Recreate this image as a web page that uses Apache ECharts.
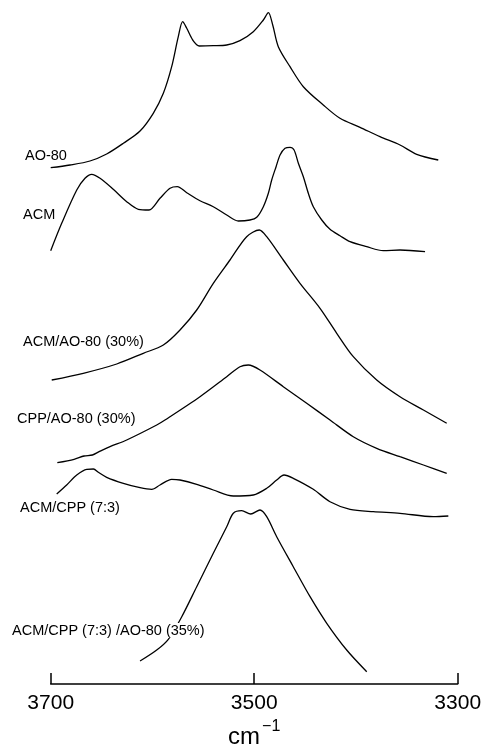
<!DOCTYPE html>
<html>
<head>
<meta charset="utf-8">
<script src="https://cdn.jsdelivr.net/npm/echarts@6/dist/echarts.min.js"></script>
<style>
html,body{margin:0;padding:0;background:#fff;}
#chart{width:485px;height:746px;}
</style>
</head>
<body>
<div id="chart"></div>
<script>
// Tick labels of the wavenumber axis (cm^-1)
const xTicks = [3700, 3500, 3300];

// Series names (as printed next to each spectrum)
const names = ['AO-80', 'ACM', 'ACM/AO-80 (30%)', 'CPP/AO-80 (30%)', 'ACM/CPP (7:3)', 'ACM/CPP (7:3) /AO-80 (35%)'];

// Wavenumbers (cm^-1) and stacked absorbance (arbitrary units, offset per trace)
const ao80Wn  = [3700, 3681, 3661.4, 3645, 3628.6, 3612.2, 3599.2, 3589.3, 3581.1, 3574.6, 3570.3, 3566.3, 3560.4, 3554, 3540.2, 3527, 3514, 3500.9, 3491, 3486.1, 3481.8, 3476.3, 3464.8, 3451.7, 3432.1, 3415.7, 3396, 3376.4, 3356.7, 3340.3, 3319.1];
const ao80Abs = [516.3, 519, 523, 530, 540.7, 553, 570.7, 590.7, 617.3, 647.3, 662.3, 655.7, 644, 638, 638.3, 639, 643.3, 652.3, 664, 671.3, 659, 637.3, 617.3, 597.3, 579, 565.7, 556.7, 547.3, 539, 529.7, 524];

const acmWn  = [3700, 3689.2, 3674.4, 3666.3, 3659.7, 3651.5, 3638.5, 3625.3, 3613.9, 3603.4, 3592.6, 3582.7, 3575.6, 3566.3, 3553.3, 3540.2, 3527, 3515.6, 3504.1, 3497.5, 3491, 3486.1, 3482.8, 3478.5, 3474.6, 3469.7, 3464.8, 3460.8, 3456.6, 3451.7, 3446.8, 3441.9, 3433.6, 3425.5, 3415.7, 3405.8, 3389.4, 3373.1, 3356.7, 3332.1];
const acmAbs = [433.3, 460.7, 494, 505.7, 509.7, 505.7, 494.7, 482.3, 474.7, 474, 485.7, 495.7, 497.3, 491.3, 483.3, 477.3, 469, 463, 464, 466.7, 477.3, 490.7, 504, 517.3, 529, 535.7, 536.7, 534, 520.7, 507.3, 490.7, 477.3, 464, 454.7, 448.3, 442.3, 437.3, 433.3, 434, 432.3];

const acmAo80Wn  = [3699, 3668, 3635.1, 3609, 3589.3, 3572.9, 3556.5, 3540.2, 3523.8, 3507.4, 3495, 3487.7, 3471.4, 3455, 3435.3, 3418.9, 3402.6, 3379.6, 3356.7, 3333.7, 3310.8];
const acmAo80Abs = [304, 310.7, 320, 330.7, 339, 354, 374, 400.7, 424, 447.3, 454, 447.3, 424, 400.7, 375.7, 350.7, 327.3, 304, 287.3, 274, 260.7];

const cppAo80Wn  = [3693.5, 3677, 3667.2, 3659, 3652.4, 3641.7, 3625.3, 3595.8, 3587.7, 3553.3, 3527, 3514, 3505.8, 3494.3, 3471.4, 3448.4, 3425.5, 3402.6, 3379.6, 3356.7, 3333.7, 3310.8];
const cppAo80Abs = [221.3, 224.7, 228, 229, 232.3, 237.3, 244, 259, 264, 287.3, 307.3, 317.3, 319, 314, 297.3, 280.7, 264, 247.3, 235.7, 227.3, 219, 210.7];

const acmCppWn  = [3694.1, 3684.3, 3674.4, 3664.6, 3658, 3653.2, 3645, 3628.6, 3612.2, 3600.7, 3592.6, 3581.1, 3572.9, 3556.5, 3540.2, 3520.5, 3500.9, 3487.7, 3477.9, 3470.7, 3461.6, 3441.9, 3425.5, 3405.8, 3383, 3356.7, 3324, 3309.2];
const acmCppAbs = [190, 199, 209, 214.7, 215, 211.7, 206.7, 200.7, 196.3, 194.7, 199, 204.7, 204, 199.7, 194, 188, 189, 195.7, 204, 209, 205.7, 194.7, 182.3, 174.7, 172.3, 170.7, 167.3, 168];

const ternWn  = [3612.2, 3595.8, 3584.4, 3571.2, 3556.5, 3540.2, 3527, 3520.5, 3512.3, 3503.4, 3494.3, 3487.7, 3477.9, 3461.6, 3445.1, 3428.7, 3409.1, 3389.4];
const ternAbs = [23, 34, 44.7, 67.3, 97.3, 130.7, 157.3, 170.7, 173.3, 170, 174, 167.3, 147.3, 117.3, 87.3, 60.7, 34, 12.3];

const traces = [
  [ao80Wn, ao80Abs], [acmWn, acmAbs], [acmAo80Wn, acmAo80Abs],
  [cppAo80Wn, cppAo80Abs], [acmCppWn, acmCppAbs], [ternWn, ternAbs]
];

const FONT = '"Liberation Sans", Arial, sans-serif';
const chart = echarts.init(document.getElementById('chart'), null, {renderer: 'canvas'});

const series = traces.map((t, i) => ({
  name: names[i],
  type: 'line',
  data: t[0].map((w, k) => [w, t[1][k]]),
  smooth: 0.3,
  symbol: 'none',
  lineStyle: {color: '#000', width: 1.3},
  z: 2
}));

// label anchor positions (px)
const labelPos = [[25, 156], [23, 215], [23, 342], [17, 419], [20, 508], [12, 631]];

chart.setOption({
  animation: false,
  backgroundColor: '#fff',
  grid: {left: 50.7, right: 27.3, top: 0, bottom: 62, containLabel: false, outerBoundsMode: 'none'},
  xAxis: {
    type: 'value',
    min: 3300, max: 3700, interval: 200,
    inverse: true,
    axisLine: {show: true, lineStyle: {color: '#000', width: 1.5}},
    axisTick: {show: true, inside: true, length: 11, lineStyle: {color: '#000', width: 1.5}},
    axisLabel: {
      color: '#000', fontSize: 21, fontFamily: FONT, margin: 9,
      formatter: v => xTicks.includes(v) ? String(v) : ''
    },
    splitLine: {show: false},
    name: '{a|cm}{b|−1}',
    nameLocation: 'middle',
    nameGap: 32,
    nameTextStyle: {
      rich: {
        a: {fontSize: 24, fontFamily: FONT, color: '#000', padding: [8, 0, 0, 0]},
        b: {fontSize: 16, fontFamily: FONT, color: '#000', padding: [0, 0, 12, 2]}
      }
    }
  },
  yAxis: {type: 'value', min: 0, max: 684, show: false},
  series: series,
  graphic: names.map((n, i) => ({
    type: 'text',
    left: labelPos[i][0],
    top: labelPos[i][1] - 8,
    z: 10,
    style: {
      text: n, fontSize: 14.5, fontFamily: FONT, fill: '#000',
      backgroundColor: i === 5 ? '#fff' : 'transparent'
    }
  }))
});
</script>
</body>
</html>
